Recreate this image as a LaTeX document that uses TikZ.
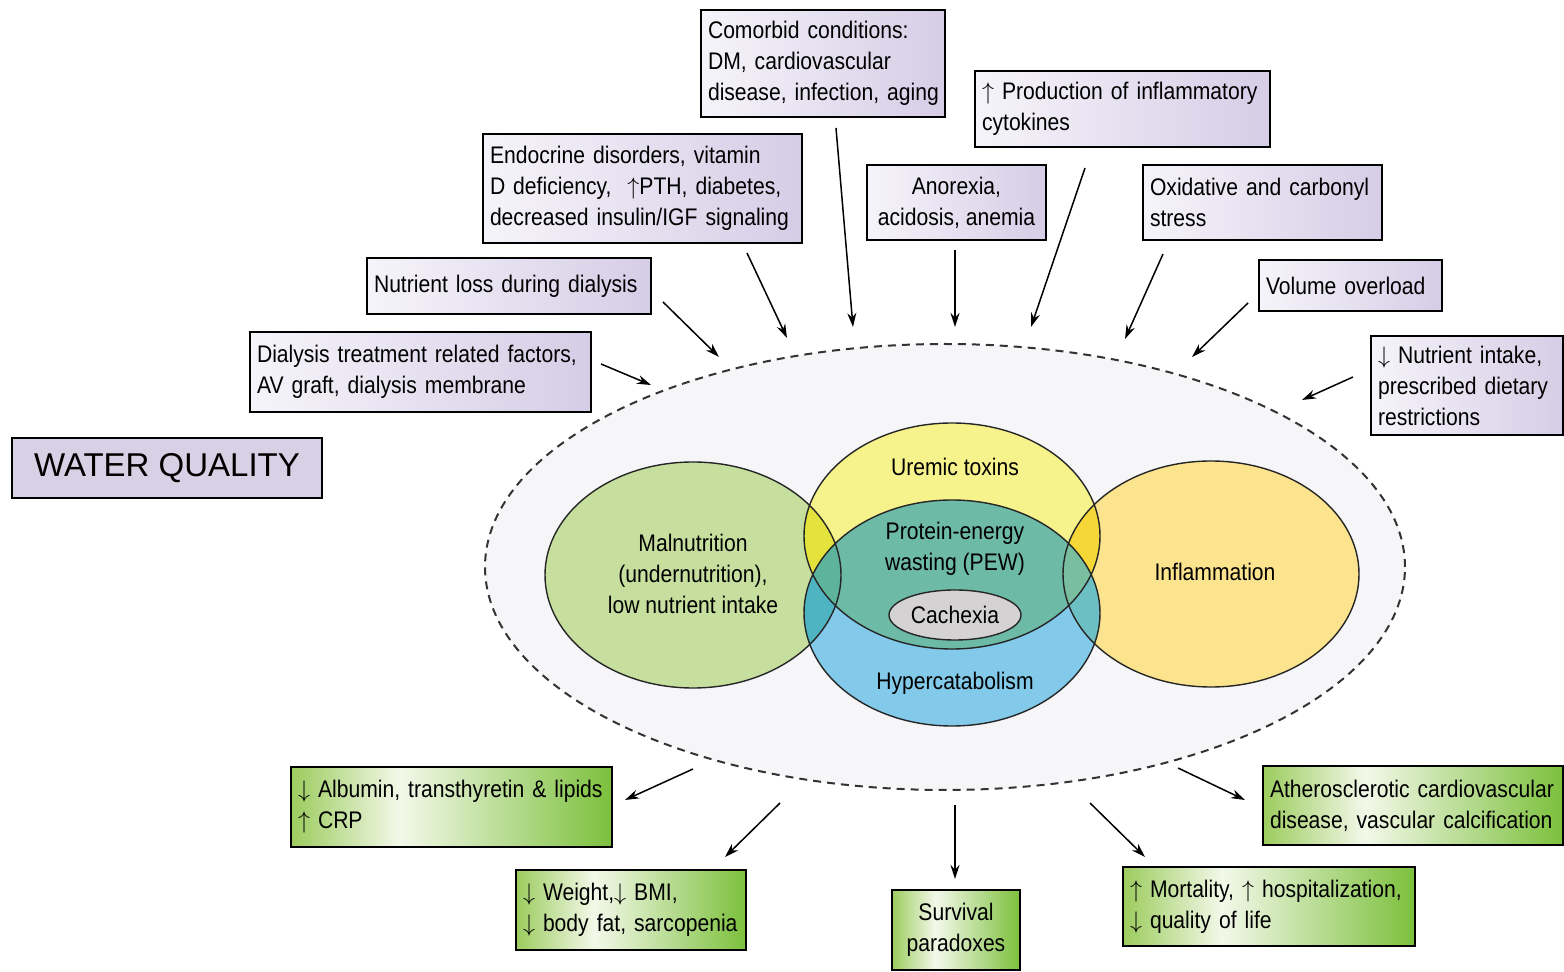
\documentclass[tikz,border=0pt]{standalone}
\usepackage{fontspec}
\setmainfont[FakeStretch=0.88]{Liberation Sans}
\newfontfamily\wqfont{Liberation Sans}
\usetikzlibrary{arrows.meta,shapes.geometric}
\definecolor{pL}{HTML}{F6F4FA}
\definecolor{pR}{HTML}{D5CDE6}
\definecolor{wq}{HTML}{D8D0E4}
\definecolor{gL}{HTML}{9CCC5E}
\definecolor{gM}{HTML}{F3F8E9}
\definecolor{gR}{HTML}{7CC03C}
\definecolor{bg}{HTML}{F6F6F9}
\definecolor{cG}{HTML}{C6DE9E}
\definecolor{cY}{HTML}{F7F38C}
\definecolor{cB}{HTML}{82C9EA}
\definecolor{cO}{HTML}{FCE38E}
\definecolor{cYB}{HTML}{6DBAA6}
\definecolor{cGY}{HTML}{E4E23C}
\definecolor{cGB}{HTML}{4FB4C2}
\definecolor{cGYB}{HTML}{5DB39B}
\definecolor{cOY}{HTML}{F5D837}
\definecolor{cOB}{HTML}{6CC0C4}
\definecolor{cOYB}{HTML}{78BE9F}
\definecolor{cC}{HTML}{D4D2D3}
\pgfdeclarehorizontalshading{greenshade}{100bp}{color(0bp)=(gL); color(25bp)=(gL); color(42bp)=(gM); color(75bp)=(gR); color(100bp)=(gR)}
\hyphenpenalty=10000
\exhyphenpenalty=10000
\hbadness=10000
\hfuzz=100pt
\begin{document}
\begin{tikzpicture}[x=0.5pt,y=-0.5pt,
  every node/.style={font=\fontsize{12}{15.5}\selectfont},
  pbox/.style={draw, line width=1pt, left color=pL, right color=pR, align=left, inner xsep=3.5pt, inner ysep=0pt},
  gbox/.style={draw, line width=1pt, shade, shading=greenshade, align=left, inner xsep=3.5pt, inner ysep=0pt},
  venn/.style={x radius=74pt, y radius=56.5pt},
  vline/.style={line width=0.7pt, draw=black!85},
  arr/.style={line width=0.75pt, -{Stealth[length=7pt,width=4.5pt]}},
  lbl/.style={align=center, inner sep=0pt}]
\useasboundingbox (0,0) rectangle (1564,972);
\fill[white] (0,0) rectangle (1564,972);

% outer dashed ellipse
\coordinate (E) at (945,567);
\filldraw[fill=bg, draw=black!80, line width=1pt, dash pattern=on 4pt off 3pt] (E) ellipse [x radius=230pt, y radius=111.5pt];

% Venn ellipses
\coordinate (G) at (693,575);
\coordinate (Y) at (952,536);
\coordinate (B) at (952,613);
\coordinate (O) at (1211,574);
\fill[cG] (G) ellipse [venn];
\fill[cO] (O) ellipse [venn];
\fill[cY] (Y) ellipse [venn];
\fill[cB] (B) ellipse [venn];
\begin{scope}\clip (Y) ellipse [venn]; \fill[cYB] (B) ellipse [venn];\end{scope}
\begin{scope}\clip (G) ellipse [venn]; \fill[cGY] (Y) ellipse [venn]; \fill[cGB] (B) ellipse [venn];
  \clip (Y) ellipse [venn]; \fill[cGYB] (B) ellipse [venn];\end{scope}
\begin{scope}\clip (O) ellipse [venn]; \fill[cOY] (Y) ellipse [venn]; \fill[cOB] (B) ellipse [venn];
  \clip (Y) ellipse [venn]; \fill[cOYB] (B) ellipse [venn];\end{scope}
\draw[vline] (G) ellipse [venn] (O) ellipse [venn] (Y) ellipse [venn] (B) ellipse [venn];

\node[ellipse, draw, vline, fill=cC, minimum width=66pt, minimum height=25pt, inner sep=0pt] (cachexia) at (955,615) {Cachexia};
\node[lbl] (uremic) at (955,467) {Uremic toxins};
\node[lbl] (pew) at (955,549) {Protein-energy\\wasting (PEW)};
\node[lbl] (hyper) at (955,683) {Hypercatabolism};
\node[lbl] (maln) at (693,574) {Malnutrition\\(undernutrition),\\low nutrient intake};
\node[lbl] (infl) at (1215,572) {Inflammation};

% top boxes
\node[pbox, minimum width=122pt, minimum height=53.5pt, text width=115pt] (comorbid) at (823,63.5) {Comorbid~conditions:\\DM,~cardiovascular\\disease,~infection,~aging};
\node[pbox, minimum width=147.5pt, minimum height=38pt, text width=140.5pt] (prod) at (1122.5,109) {$\uparrow$~Production~of~inflammatory\\cytokines};
\node[pbox, minimum width=159.5pt, minimum height=54.5pt, text width=152.5pt] (endo) at (642.5,188.5) {Endocrine~disorders,~vitamin\\D~deficiency,~~$\uparrow$PTH,~diabetes,\\decreased~insulin/IGF~signaling};
\node[pbox, minimum width=89.5pt, minimum height=37.5pt, align=center] (anorexia) at (956.5,202.5) {Anorexia,\\acidosis,~anemia};
\node[pbox, minimum width=119.5pt, minimum height=37.5pt, text width=112.5pt] (oxid) at (1262.5,202.5) {Oxidative~and~carbonyl\\stress};
\node[pbox, minimum width=142pt, minimum height=28pt, text width=135pt] (nloss) at (509,286) {Nutrient~loss~during~dialysis};
\node[pbox, minimum width=91.5pt, minimum height=25.5pt, text width=84.5pt] (volume) at (1350.5,285.5) {Volume~overload};
\node[pbox, minimum width=170.5pt, minimum height=40pt, text width=163.5pt] (dial) at (420.5,372) {Dialysis~treatment~related~factors,\\AV~graft,~dialysis~membrane};
\node[pbox, minimum width=96pt, minimum height=49.5pt, text width=89pt] (nintake) at (1467,385.5) {$\downarrow$~Nutrient~intake,\\prescribed~dietary\\restrictions};
\node[draw, line width=1pt, fill=wq, minimum width=155pt, minimum height=30pt, inner sep=0pt, font=\wqfont\fontsize{16.5}{18}\selectfont] (water) at (167,468) {WATER QUALITY};

% bottom boxes
\node[gbox, minimum width=160.5pt, minimum height=40pt, text width=153.5pt] (alb) at (451.5,807) {$\downarrow$~Albumin,~transthyretin~\&~lipids\\$\uparrow$~CRP};
\node[gbox, minimum width=115pt, minimum height=40pt, text width=108pt] (weight) at (631,910) {$\downarrow$~Weight,$\downarrow$~BMI,\\$\downarrow$~body~fat,~sarcopenia};
\node[gbox, minimum width=64pt, minimum height=40pt, align=center] (surv) at (956,930) {Survival\\paradoxes};
\node[gbox, minimum width=146pt, minimum height=39.5pt, text width=139pt] (mort) at (1269,906.5) {$\uparrow$~Mortality,~$\uparrow$~hospitalization,\\$\downarrow$~quality~of~life};
\node[gbox, minimum width=150pt, minimum height=39.5pt, text width=143pt] (ather) at (1413,805.5) {Atherosclerotic~cardiovascular\\disease,~vascular~calcification};

% arrow end points
\coordinate (a1s) at (663,302); \coordinate (a1e) at (719,357);
\coordinate (a2s) at (747,253); \coordinate (a2e) at (787,338);
\coordinate (a3s) at (836,128); \coordinate (a3e) at (853,327);
\coordinate (a4s) at (955,250); \coordinate (a4e) at (955,327);
\coordinate (a5s) at (1085,168); \coordinate (a5e) at (1031,327);
\coordinate (a6s) at (1163,254); \coordinate (a6e) at (1125,339);
\coordinate (a7s) at (1248,303); \coordinate (a7e) at (1192,357);
\coordinate (a8s) at (1353,377); \coordinate (a8e) at (1302,400);
\coordinate (a9s) at (601,364); \coordinate (a9e) at (651,385);
\coordinate (b1s) at (693,769); \coordinate (b1e) at (625,800);
\coordinate (b2s) at (780,803); \coordinate (b2e) at (725,857);
\coordinate (b3s) at (955,805); \coordinate (b3e) at (955,879);
\coordinate (b4s) at (1090,803); \coordinate (b4e) at (1145,857);
\coordinate (b5s) at (1178,768); \coordinate (b5e) at (1245,800);
\foreach \a in {a1,a2,a3,a4,a5,a6,a7,a8,a9,b1,b2,b3,b4,b5}
  \draw[arr] (\a s) -- (\a e);
\end{tikzpicture}
\end{document}
